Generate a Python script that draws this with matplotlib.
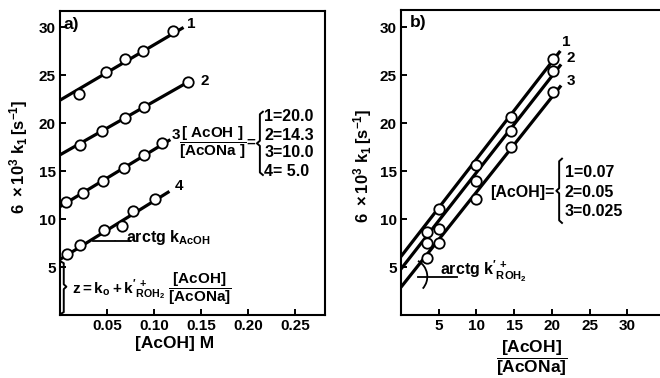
import matplotlib
matplotlib.use("Agg")
import matplotlib.pyplot as plt
from matplotlib import font_manager
from matplotlib.patches import Arc

# panel a) : 6*10^3 k1 vs [AcOH] M, four [AcOH]/[AcONa] ratios
a_labels = ["1", "2", "3", "4"]
a_x = [[0.020, 0.049, 0.069, 0.088, 0.120],
       [0.021, 0.045, 0.069, 0.089, 0.136],
       [0.006, 0.024, 0.046, 0.068, 0.089, 0.109],
       [0.007, 0.021, 0.047, 0.066, 0.078, 0.101]]
a_y = [[23.0, 25.3, 26.7, 27.5, 29.6],
       [17.7, 19.2, 20.5, 21.7, 24.3],
       [11.8, 12.7, 14.0, 15.3, 16.7, 17.9],
       [6.35, 7.3, 8.9, 9.3, 10.8, 12.05]]
a_line_x = [[0, 0.130], [0, 0.140], [0, 0.116], [0, 0.115]]
a_line_y = [[22.4, 29.9], [16.7, 24.5], [11.3, 18.2], [5.8, 12.8]]
a_ratio_text = ["1=20.0", "2=14.3", "3=10.0", "4= 5.0"]
a_xticks = [0.05, 0.10, 0.15, 0.20, 0.25]
a_xticklabels = ["0.05", "0.10", "0.15", "0.20", "0.25"]

# panel b) : 6*10^3 k1 vs [AcOH]/[AcONa], three [AcOH]
b_labels = ["1", "2", "3"]
b_x = [3.4, 5.0, 10.0, 14.55, 20.2]
b_y = [[8.7, 11.0, 15.6, 20.6, 26.7],
       [7.5, 9.0, 14.0, 19.2, 25.4],
       [5.9, 7.5, 12.1, 17.5, 23.3]]
b_line_x = [[0, 21.0], [0, 21.1], [0, 21.1]]
b_line_y = [[6.1, 27.4], [4.8, 26.0], [2.9, 23.8]]
b_conc_text = ["1=0.07", "2=0.05", "3=0.025"]
b_xticks = [5, 10, 15, 20, 25, 30]

yticks = [5, 10, 15, 20, 25, 30]

names = {f.name for f in font_manager.fontManager.ttflist}
fam = "Liberation Sans Narrow" if "Liberation Sans Narrow" in names else "Liberation Sans"
plt.rcParams["font.family"] = [fam, "DejaVu Sans"]
plt.rcParams["font.weight"] = "bold"
plt.rcParams["mathtext.fontset"] = "custom"
plt.rcParams["mathtext.rm"] = fam + ":bold"
plt.rcParams["mathtext.it"] = fam + ":bold"
plt.rcParams["mathtext.bf"] = fam + ":bold"
plt.rcParams["mathtext.default"] = "rm"

fig = plt.figure(figsize=(6.6, 3.78), dpi=100)
axa = fig.add_axes([60 / 660, 63 / 378, 265 / 660, 304 / 378])
axb = fig.add_axes([401 / 660, 63 / 378, 259 / 660, 305 / 378])

ylab = r"$6\ \times10^3\ k_1\,[s^{-1}]$"


def style(ax):
    for s in ax.spines.values():
        s.set_linewidth(1.5)
    ax.tick_params(direction="in", length=4, width=1.4, labelsize=11, pad=3)
    for t in ax.get_xticklabels() + ax.get_yticklabels():
        t.set_fontweight("bold")


def brace(ax, x, y0, y1, w):
    ym = (y0 + y1) / 2
    d = (y1 - y0) * 0.04
    ax.plot([x + w, x + w / 2, x + w / 2, x, x + w / 2, x + w / 2, x + w],
            [y1, y1 - d, ym + d, ym, ym - d, y0 + d, y0],
            color="black", lw=1.4, clip_on=False)


# ---- panel a
for i in range(4):
    axa.plot(a_line_x[i], a_line_y[i], color="black", lw=2.3, zorder=2)
    axa.plot(a_x[i], a_y[i], "o", ms=7.5, mfc="white", mec="black", mew=1.3, zorder=3)
a_lab_pos = [(0.135, 30.3), (0.150, 24.4), (0.119, 18.8), (0.122, 13.4)]
for lab, (px, py) in zip(a_labels, a_lab_pos):
    axa.text(px, py, lab, fontsize=11, fontweight="bold", va="center")

axa.set_xlim(0, 0.282)
axa.set_ylim(0, 31.7)
axa.set_xticks(a_xticks)
axa.set_xticklabels(a_xticklabels)
axa.set_yticks(yticks)
style(axa)
axa.set_ylabel(ylab, fontsize=12)
axa.yaxis.set_label_coords(-0.115, 0.52)
axa.set_xlabel("[AcOH] M", fontsize=12.5, fontweight="bold")
axa.xaxis.set_label_coords(0.434, -0.07)
axa.text(0.004, 30.3, "a)", fontsize=12.5, fontweight="bold", va="center")

axa.text(0.2095, 18.0, r"$\dfrac{[\ AcOH\ ]}{[AcONa\ ]}$=", fontsize=11,
         ha="right", va="center")
brace(axa, 0.2095, 14.6, 21.2, 0.0064)
for txt, yy in zip(a_ratio_text, [20.7, 18.75, 16.9, 15.0]):
    axa.text(0.2175, yy, txt, fontsize=11.5, fontweight="bold", va="center")

# arctg k_AcOH
axa.plot([0.0354, 0.0745], [7.75, 7.75], color="black", lw=1.3)
axa.add_patch(Arc((0.032, 7.75), 50 / 940, 50 / 9.6, theta1=-20, theta2=52,
                  color="black", lw=1.3))
axa.text(0.0705, 8.1, r"arctg $k_{AcOH}$", fontsize=11.5, va="center")

# z brace on the y axis
axa.plot([0.0005, 0.004, 0.004, 0.0068, 0.004, 0.004, 0.0005],
         [5.6, 5.4, 3.2, 2.95, 2.7, 0.3, 0.1], color="black", lw=1.4)
axa.text(0.0125, 2.75,
         r"$z=k_o+k'^{\,+}_{ROH_2}\ \dfrac{[AcOH]}{[AcONa]}$",
         fontsize=11, va="center")

# ---- panel b
for i in range(3):
    axb.plot(b_line_x[i], b_line_y[i], color="black", lw=2.3, zorder=2)
    axb.plot(b_x, b_y[i], "o", ms=7.5, mfc="white", mec="black", mew=1.3, zorder=3)
b_lab_pos = [(21.3, 28.5), (22.0, 26.8), (22.0, 24.4)]
for lab, (px, py) in zip(b_labels, b_lab_pos):
    axb.text(px, py, lab, fontsize=11, fontweight="bold", va="center")

axb.set_xlim(0, 34.35)
axb.set_ylim(0, 31.8)
axb.set_xticks(b_xticks)
axb.set_yticks(yticks)
axb.spines["right"].set_visible(False)
style(axb)
axb.set_ylabel(ylab, fontsize=12)
axb.yaxis.set_label_coords(-0.105, 0.49)
axb.set_xlabel(r"$\dfrac{[AcOH]}{[AcONa]}$", fontsize=12.5)
axb.xaxis.set_label_coords(0.506, -0.078)
axb.text(1.2, 30.5, "b)", fontsize=12.5, fontweight="bold", va="center")

axb.text(20.4, 12.8, "[AcOH]=", fontsize=11.5, fontweight="bold",
         ha="right", va="center")
brace(axb, 20.6, 9.6, 16.3, 0.75)
for txt, yy in zip(b_conc_text, [14.9, 12.8, 10.8]):
    axb.text(21.75, yy, txt, fontsize=11.5, fontweight="bold", va="center")

axb.plot([2.25, 7.4], [4.0, 4.0], color="black", lw=1.3)
axb.add_patch(Arc((1.1, 4.0), 36 / 7.54, 36 / 9.6, theta1=-35, theta2=55,
                  color="black", lw=1.3))
axb.text(5.2, 4.5, r"arctg $k'^{\,+}_{ROH_2}$", fontsize=11.5, va="center")

fig.savefig("out.png", dpi=100)
